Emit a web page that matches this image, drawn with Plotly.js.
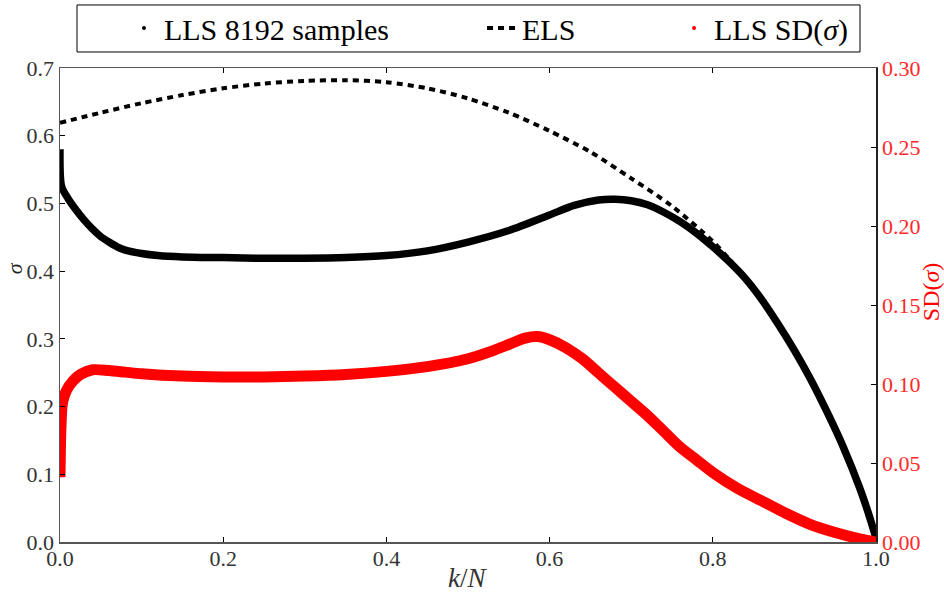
<!DOCTYPE html>
<html>
<head>
<meta charset="utf-8">
<script src="https://cdn.plot.ly/plotly-3.0.1.min.js"></script>
<style>html,body{margin:0;padding:0;background:#fff;}#chart{width:944px;height:595px;}</style>
</head>
<body>
<div id="chart"></div>
<script>
// LLS 8192 samples: mean sigma vs k/N
const kN_lls = [0, 0.002, 0.01, 0.02, 0.03, 0.04, 0.05, 0.06, 0.07, 0.08, 0.1, 0.12, 0.15, 0.2, 0.25, 0.3, 0.35, 0.4, 0.45, 0.5, 0.55, 0.6, 0.63, 0.66, 0.68, 0.7, 0.72, 0.74, 0.76, 0.78, 0.8, 0.82, 0.84, 0.86, 0.88, 0.9, 0.92, 0.94, 0.96, 0.98, 0.99, 1.0];
const sigma_lls = [0.58, 0.525, 0.507, 0.49, 0.475, 0.462, 0.451, 0.443, 0.436, 0.431, 0.426, 0.423, 0.421, 0.420, 0.419, 0.419, 0.420, 0.423, 0.430, 0.443, 0.460, 0.483, 0.497, 0.505, 0.506, 0.504, 0.498, 0.487, 0.473, 0.456, 0.436, 0.414, 0.389, 0.358, 0.322, 0.283, 0.240, 0.192, 0.140, 0.080, 0.045, 0.006];

// ELS curve
const kN_els = [0, 0.05, 0.1, 0.15, 0.2, 0.25, 0.3, 0.35, 0.4, 0.45, 0.5, 0.55, 0.6, 0.65, 0.7, 0.75, 0.8, 0.82, 0.84, 0.86, 0.88, 0.9, 0.92, 0.94, 0.96, 0.98, 0.99, 1.0];
const sigma_els = [0.619, 0.634, 0.648, 0.660, 0.670, 0.677, 0.681, 0.682, 0.679, 0.670, 0.655, 0.634, 0.607, 0.576, 0.537, 0.496, 0.444, 0.418, 0.390, 0.358, 0.322, 0.283, 0.240, 0.192, 0.140, 0.080, 0.045, 0.0];

// LLS standard deviation of sigma (right axis)
const kN_sd = [0, 0.001, 0.003, 0.008, 0.016, 0.025, 0.04, 0.06, 0.08, 0.1, 0.15, 0.2, 0.25, 0.3, 0.35, 0.4, 0.45, 0.5, 0.53, 0.55, 0.57, 0.585, 0.6, 0.62, 0.64, 0.66, 0.68, 0.7, 0.72, 0.74, 0.76, 0.78, 0.8, 0.83, 0.86, 0.89, 0.92, 0.95, 0.98, 1.0];
const sd_lls = [0.041, 0.07, 0.088, 0.096, 0.102, 0.106, 0.109, 0.1085, 0.1075, 0.1065, 0.105, 0.1045, 0.1045, 0.105, 0.106, 0.108, 0.111, 0.116, 0.121, 0.125, 0.129, 0.130, 0.128, 0.123, 0.116, 0.107, 0.098, 0.089, 0.080, 0.070, 0.060, 0.052, 0.044, 0.034, 0.026, 0.018, 0.011, 0.006, 0.002, 0.0];

const legendNames = ['LLS 8192 samples', 'ELS', 'LLS SD(<i>σ</i>)'];
const xTicks = [0, 0.2, 0.4, 0.6, 0.8, 1.0];

const FONT = 'Liberation Serif, DejaVu Serif, serif';

const traces = [
  {x: kN_lls, y: sigma_lls, mode: 'lines', line: {color: '#000', width: 7.5, shape: 'spline', smoothing: 0.8}, showlegend: false, hoverinfo: 'skip'},
  {x: kN_els, y: sigma_els, mode: 'lines', name: legendNames[1], line: {color: '#000', width: 4, dash: '6px,5px', shape: 'spline', smoothing: 0.8}, legend: 'legend2'},
  {x: kN_sd, y: sd_lls, yaxis: 'y2', mode: 'lines', line: {color: '#ff0000', width: 11, shape: 'spline', smoothing: 0.8}, showlegend: false, hoverinfo: 'skip'},
  {x: [null], y: [null], mode: 'markers', name: legendNames[0], marker: {color: '#000', size: 4}, legend: 'legend'},
  {x: [null], y: [null], yaxis: 'y2', mode: 'markers', name: legendNames[2], marker: {color: '#ff0000', size: 4}, legend: 'legend3'}
];

const legBase = {orientation: 'h', yref: 'container', yanchor: 'middle', xanchor: 'left', y: 1 - 28/595, bgcolor: 'rgba(0,0,0,0)', borderwidth: 0, font: {family: FONT, size: 30, color: '#000'}};

const layout = {
  width: 944, height: 595,
  margin: {l: 60, r: 68, t: 68, b: 53},
  paper_bgcolor: '#fff', plot_bgcolor: '#fff',
  font: {family: FONT, color: '#222'},
  showlegend: true,
  legend: Object.assign({}, legBase, {x: 0.0784}),
  legend2: Object.assign({}, legBase, {x: 0.5172}),
  legend3: Object.assign({}, legBase, {x: 0.7525}),
  shapes: [{type: 'rect', xref: 'paper', yref: 'paper', x0: (77-60)/816, x1: (860-60)/816, y0: (541.7-52)/473.7, y1: (541.7-5)/473.7, line: {color: '#000', width: 1}, fillcolor: 'rgba(0,0,0,0)'}],
  annotations: [
    {text: '<i>σ</i>', xref: 'paper', yref: 'paper', x: (14-60)/816, y: (541.7-268)/473.7, xanchor: 'center', yanchor: 'middle', textangle: -90, showarrow: false, font: {family: FONT, size: 22, color: '#222'}},
    {text: 'SD(<i>σ</i>)', xref: 'paper', yref: 'paper', x: (931-60)/816, y: (541.7-292)/473.7, xanchor: 'center', yanchor: 'middle', textangle: -90, showarrow: false, font: {family: FONT, size: 24, color: '#ff0000'}},
    {text: '<i>k</i>/<i>N</i>', xref: 'paper', yref: 'paper', x: 0.5, y: (541.7-578)/473.7, xanchor: 'center', yanchor: 'middle', showarrow: false, font: {family: FONT, size: 27, color: '#333'}}
  ],
  xaxis: {
    range: [0, 1], tickvals: xTicks, tickformat: '.1f',
    ticks: 'inside', ticklen: 5, tickwidth: 1, tickcolor: '#000',
    showline: true, linecolor: '#555', linewidth: 1.5, mirror: 'ticks',
    showgrid: false, zeroline: false, ticklabelstandoff: -4,
    tickfont: {family: FONT, size: 22, color: '#333'}
  },
  yaxis: {
    range: [0, 0.7], dtick: 0.1, tick0: 0, tickformat: '.1f',
    ticks: 'inside', ticklen: 5, tickwidth: 1, tickcolor: '#000',
    showline: true, linecolor: '#555', linewidth: 1.5,
    showgrid: false, zeroline: false,
    tickfont: {family: FONT, size: 22, color: '#333'}
  },
  yaxis2: {
    overlaying: 'y', side: 'right', anchor: 'x',
    range: [0, 0.3], dtick: 0.05, tick0: 0, tickformat: '.2f',
    ticks: 'inside', ticklen: 5, tickwidth: 1, tickcolor: '#000',
    showline: true, linecolor: '#222', linewidth: 1.5,
    showgrid: false, zeroline: false,
    tickfont: {family: FONT, size: 22, color: '#ff2a2a'}
  }
};

Plotly.newPlot('chart', traces, layout, {displayModeBar: false, staticPlot: true});
</script>
</body>
</html>
